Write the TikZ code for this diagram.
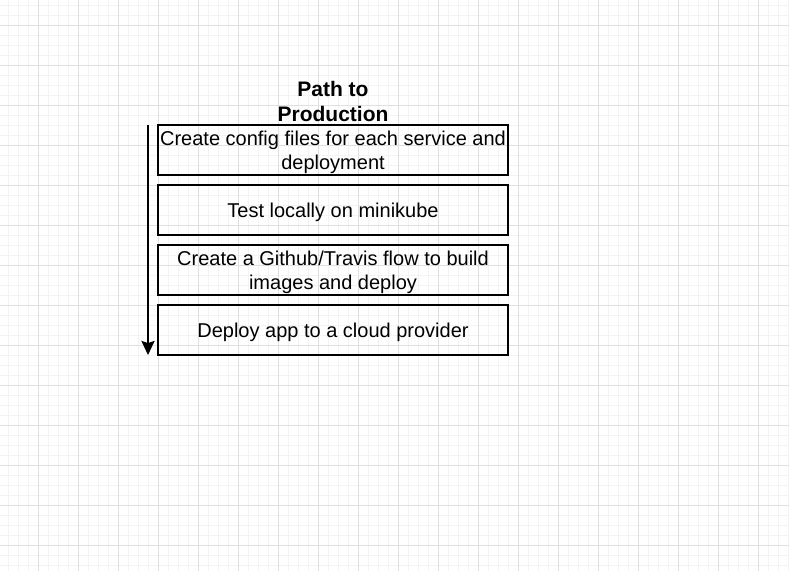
\documentclass[tikz,border=0pt]{standalone}
\usepackage{fontspec}
\setmainfont{Liberation Sans}
\usetikzlibrary{arrows.meta}
\definecolor{gridminor}{HTML}{F3F3F3}
\definecolor{gridmajor}{HTML}{E0E0E0}
\tikzset{
  stepbox/.style={draw=black, line width=2pt, minimum width=350pt, minimum height=50pt,
    inner sep=0pt},
  steptext/.style={align=center, inner sep=0pt, yshift=-2.5pt, font=\fontsize{20}{24}\selectfont},
  titletext/.style={align=center, font=\fontsize{21}{25}\selectfont\bfseries},
  flowarrow/.style={line width=2pt, -{Stealth[length=14pt,width=13pt,inset=2pt]}}
}
\begin{document}
\begin{tikzpicture}[x=1pt,y=-1pt]
\useasboundingbox (0,0) rectangle (789,571);
\fill[white] (0,0) rectangle (789,571);
\foreach \x in {8,18,...,788} \draw[gridminor, line width=1pt] (\x,0) -- (\x,571);
\foreach \y in {5,15,...,565} \draw[gridminor, line width=1pt] (0,\y) -- (789,\y);
\foreach \x in {38,78,...,758} \draw[gridmajor, line width=1pt] (\x,0) -- (\x,571);
\foreach \y in {25,65,...,545} \draw[gridmajor, line width=1pt] (0,\y) -- (789,\y);

\node[titletext] (title) at (333,101) {Path to\\Production};
\node[stepbox, label={[steptext]center:{Create config files for each service and\\deployment}}] (b1) at (333,150) {};
\node[stepbox, label={[steptext]center:{Test locally on minikube}}] (b2) at (333,210) {};
\node[stepbox, label={[steptext]center:{Create a Github/Travis flow to build\\images and deploy}}] (b3) at (333,270) {};
\node[stepbox, label={[steptext]center:{Deploy app to a cloud provider}}] (b4) at (333,330) {};

\coordinate (astart) at (148,125);
\coordinate (aend) at (148,355);
\draw[flowarrow] (astart) -- (aend);
\end{tikzpicture}
\end{document}
